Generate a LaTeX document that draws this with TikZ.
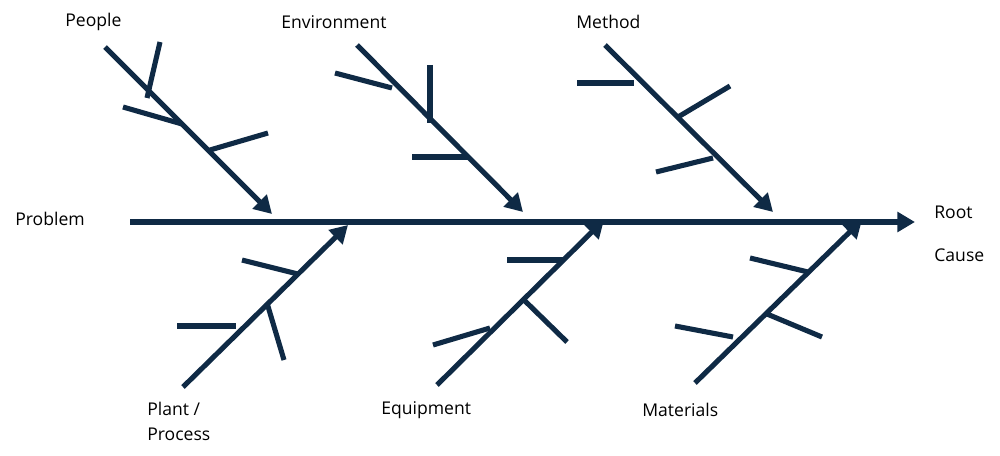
\documentclass[tikz,border=0pt]{standalone}
\usepackage{fontspec}
\setmainfont{Open Sans}
\usetikzlibrary{arrows.meta,positioning}
\definecolor{navy}{HTML}{0F2A45}
\tikzset{
  bone/.style={navy, line width=2.9pt, -{Triangle[length=10pt,width=11pt]}},
  rib/.style={navy, line width=2.9pt},
  lbl/.style={anchor=west, inner sep=0pt, font=\fontsize{10}{12}\selectfont}
}
\begin{document}
\begin{tikzpicture}[x=0.02cm,y=-0.02cm]
\useasboundingbox (0,0) rectangle (1000,456);
% spine
\coordinate (tail) at (130,222);
\coordinate (head) at (915,222);
\draw[bone] (tail) -- (head);
% upper bones
\coordinate (p0) at (105,47);  \coordinate (p1) at (272,214);
\coordinate (e0) at (357,45);  \coordinate (e1) at (523,212);
\coordinate (m0) at (605,45);  \coordinate (m1) at (773,212);
\draw[bone] (p0) -- (p1);
\draw[bone] (e0) -- (e1);
\draw[bone] (m0) -- (m1);
% lower bones
\coordinate (s0) at (183,387); \coordinate (s1) at (348,225);
\coordinate (q0) at (437,385); \coordinate (q1) at (604,220);
\coordinate (t0) at (695,383); \coordinate (t1) at (862,220);
\draw[bone] (s0) -- (s1);
\draw[bone] (q0) -- (q1);
\draw[bone] (t0) -- (t1);
% ribs
\draw[rib] (160,42) -- (147,98);
\draw[rib] (123,107) -- (182,124);
\draw[rib] (210,150) -- (268,133);
\draw[rib] (335,73) -- (392,88);
\draw[rib] (430,65) -- (430,123);
\draw[rib] (412,157) -- (468,157);
\draw[rib] (577,83) -- (634,83);
\draw[rib] (678,117) -- (730,86);
\draw[rib] (656,172) -- (713,158);
\draw[rib] (242,260) -- (298,274);
\draw[rib] (177,326) -- (236,326);
\draw[rib] (267,303) -- (284,360);
\draw[rib] (507,260) -- (563,260);
\draw[rib] (433,345) -- (490,328);
\draw[rib] (524,300) -- (567,342);
\draw[rib] (750,258) -- (808,272);
\draw[rib] (675,326) -- (733,337);
\draw[rib] (767,314) -- (822,337);
% labels
\node[lbl] (people) at (65,22) {People};
\node[lbl] (env) at (281,22) {Environment};
\node[lbl] (method) at (576,22) {Method};
\node[lbl] (problem) at (15,219) {Problem};
\node[lbl] (root) at (934,212) {Root};
\node[lbl] (cause) at (934,255) {Cause};
\node[lbl] (plant) at (147,409) {Plant /};
\node[lbl] (process) at (147,434) {Process};
\node[lbl] (equip) at (381,410) {Equipment};
\node[lbl] (mat) at (642,410) {Materials};
\end{tikzpicture}
\end{document}
